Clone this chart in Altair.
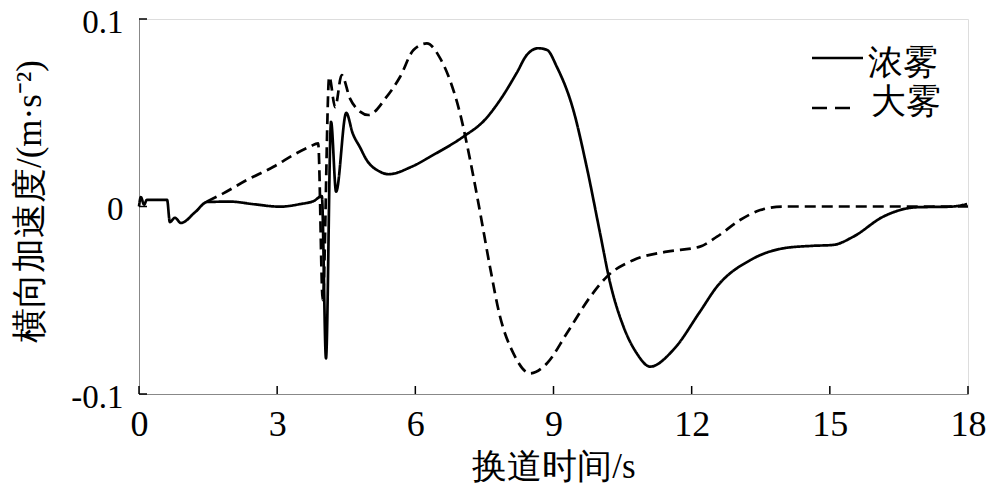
import altair as alt
import pandas as pd

# ---- data ----
series_names = ["浓雾", "大雾"]

t_dense = [0.0, 0.04, 0.11, 0.17, 0.61, 0.67, 0.78, 0.91, 1.22, 1.48, 1.98, 2.5, 3.06, 3.5, 3.8, 3.97,
           4.06, 4.17, 4.28, 4.50, 4.64, 4.80, 4.94, 5.23, 5.42, 5.9, 6.39, 7.04, 7.5, 7.84, 8.2, 8.42,
           8.67, 8.86, 9.07, 9.43, 9.72, 10.01, 10.23, 10.52, 10.8, 11.1, 11.6, 12.18, 12.55, 13.28,
           13.99, 14.6, 15.07, 15.51, 16.16, 16.89, 17.62, 17.98]
a_dense = [0.0, 0.005, 0.001, 0.0035, 0.0035, -0.0083, -0.006, -0.0088, -0.003, 0.0024, 0.0026, 0.0012,
           -0.0001, 0.0013, 0.003, 0.0056,
           -0.081, 0.0452, 0.0079, 0.0499, 0.039, 0.0315, 0.0249, 0.0186, 0.0172, 0.021, 0.0275, 0.0372,
           0.046, 0.0568, 0.0712, 0.0808,
           0.0844, 0.0835, 0.0746, 0.0515, 0.0212, -0.0141, -0.0408, -0.0641, -0.078, -0.0854, -0.0765,
           -0.0561, -0.0427, -0.0285,
           -0.0223, -0.021, -0.0205, -0.0161, -0.0054, -0.0004, -0.0001, 0.0013]

t_heavy = [1.47, 1.83, 2.34, 2.92, 3.42, 3.71, 3.89, 3.99, 4.13, 4.26, 4.40, 4.58, 4.80, 4.98, 5.38,
           5.67, 5.96, 6.25, 6.54, 6.75, 6.97, 7.19, 7.41, 7.62, 7.84, 8.13, 8.49, 8.86, 9.29, 9.80,
           10.16, 10.74, 11.46, 12.18, 12.55, 13.05, 13.49, 14.0, 15.0, 16.0, 17.0, 18.0]
a_heavy = [0.0026, 0.007, 0.0141, 0.0212, 0.0284, 0.0319, 0.0337, -0.05, 0.0692, 0.053, 0.0701, 0.0577,
           0.0506, 0.0488, 0.0586,
           0.0692, 0.0835, 0.087, 0.079, 0.0675, 0.0497, 0.0248, -0.0036, -0.0321, -0.0588, -0.0783,
           -0.089, -0.0836, -0.0676, -0.0481,
           -0.0374, -0.0285, -0.0241, -0.0214, -0.0161, -0.0072, -0.0019, 0.0, 0.0, 0.0, 0.0, 0.0]

x_ticks = [0, 3, 6, 9, 12, 15, 18]
y_ticks = [-0.1, 0.0, 0.1]

x_title = "换道时间/s"
y_title = "横向加速度/(m·s⁻²)"

FONT = "Liberation Serif"
W, H = 829, 375

df = pd.concat([
    pd.DataFrame({"t": t_dense, "a": a_dense, "series": series_names[0]}),
    pd.DataFrame({"t": t_heavy, "a": a_heavy, "series": series_names[1]}),
])

xscale = alt.Scale(domain=[0, 18], nice=False, zero=False)
yscale = alt.Scale(domain=[-0.1, 0.1], nice=False, zero=False)

lines = alt.Chart(df).mark_line(strokeWidth=2.7, interpolate="monotone", color="black").encode(
    x=alt.X("t:Q", scale=xscale, axis=alt.Axis(
        values=x_ticks, title=x_title, tickSize=0, labelPadding=13, labelFlush=False,
        labelFont=FONT, titleFont=FONT,
        labelFontSize=36, titleFontSize=35, titleY=72, titleBaseline="middle",
        titleFontWeight="normal", grid=False)),
    y=alt.Y("a:Q", scale=yscale, axis=alt.Axis(
        values=y_ticks, title=y_title, tickSize=0, labelPadding=16, labelFlush=False,
        labelFont=FONT, titleFont=FONT,
        labelFontSize=33, labelBaseline="middle", labelOffset=3,
        labelExpr="replace(format(datum.value, '.1~f'), '\u2212', '-')",
        titleFontSize=35, titleX=-110, titleY=182, titleAngle=270,
        titleAlign="center", titleBaseline="middle", titleFontWeight="normal", grid=False)),
    strokeDash=alt.StrokeDash("series:N", scale=alt.Scale(domain=series_names, range=[[1, 0], [11, 6]]),
                              legend=None),
    detail="series:N",
)

xt = alt.Chart(pd.DataFrame({"t": x_ticks})).mark_rule(color="black", strokeWidth=1.5).encode(
    x=alt.X("t:Q", scale=xscale), y=alt.value(H), y2=alt.value(H - 8))
yt = alt.Chart(pd.DataFrame({"a": y_ticks})).mark_rule(color="black", strokeWidth=1.5).encode(
    y=alt.Y("a:Q", scale=yscale), x=alt.value(0), x2=alt.value(8))

leg_df0 = pd.DataFrame({"s": [series_names[0]]})
leg_df1 = pd.DataFrame({"s": [series_names[1]]})
leg_rule0 = alt.Chart(leg_df0).mark_rule(color="black", strokeWidth=2.7).encode(
    x=alt.value(673), x2=alt.value(724), y=alt.value(39))
leg_rule1 = alt.Chart(leg_df1).mark_rule(color="black", strokeWidth=2.7, strokeDash=[15, 8]).encode(
    x=alt.value(673), x2=alt.value(712), y=alt.value(89))
leg_text0 = alt.Chart(leg_df0).mark_text(align="left", baseline="middle", fontSize=35, font=FONT,
                                         color="black").encode(
    x=alt.value(729), y=alt.value(44), text="s:N")
leg_text1 = alt.Chart(leg_df1).mark_text(align="left", baseline="middle", fontSize=35, font=FONT,
                                         color="black").encode(
    x=alt.value(732), y=alt.value(83), text="s:N")

chart = alt.layer(lines, xt, yt, leg_rule0, leg_rule1, leg_text0, leg_text1).properties(
    width=W, height=H,
    autosize=alt.AutoSizeParams(type="none"),
    padding={"left": 131, "top": 11, "right": 24, "bottom": 92},
).configure_view(stroke=None).configure_axis(
    domainColor="black", domainWidth=1.6, labelColor="black", titleColor="black",
).configure(background="white")

chart.save("out.html", embed_options={"renderer": "svg", "actions": False})
